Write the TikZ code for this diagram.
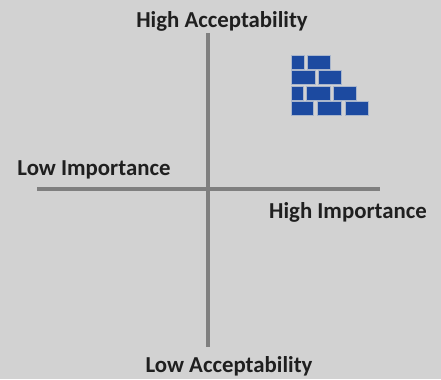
\documentclass[tikz,border=0pt]{standalone}
\usepackage{fontspec}
\setmainfont{Carlito}
\definecolor{panelgray}{HTML}{D2D2D2}
\definecolor{axisgray}{HTML}{7F7F7F}
\definecolor{brickblue}{HTML}{1C4AA0}
\definecolor{brickedge}{HTML}{A9B6CC}
\tikzset{
    axisline/.style={line width=3pt, draw=axisgray},
    axislabel/.style={font=\fontsize{17.1}{19}\selectfont\bfseries, text=black!88, inner sep=0pt},
    brick/.style={fill=brickblue, draw=brickedge, line width=0.4pt}
}
\begin{document}
\begin{tikzpicture}[x=0.75pt, y=-0.75pt]
    \useasboundingbox[fill=panelgray] (0, 0) rectangle (441, 379);

    \coordinate (axistop) at (208, 33);
    \coordinate (axisbottom) at (208, 347);
    \coordinate (axisleft) at (37, 189);
    \coordinate (axisright) at (380, 189);

    \draw[axisline]
        (axistop) -- (axisbottom);
    \draw[axisline]
        (axisleft) -- (axisright);

    \node[axislabel] (highacc) at (222, 21.5) {High Acceptability};
    \node[axislabel] (lowacc) at (229, 366.5) {Low Acceptability};
    \node[axislabel] (lowimp) at (94, 169.5) {Low Importance};
    \node[axislabel] (highimp) at (348, 212.5) {High Importance};

    % bricks, top row first: left, right, top, bottom
    \foreach \xa/\xb/\ya/\yb in {
        291/304/55/69, 307/330/55/69,
        291/315/70/84, 318/341/70/84,
        291/303/86/100, 306/330/86/100, 333/356/86/100,
        291/313/101/115, 317/341/101/115, 345/368/101/115}
        \draw[brick] (\xa, \ya) rectangle (\xb, \yb);
\end{tikzpicture}
\end{document}
